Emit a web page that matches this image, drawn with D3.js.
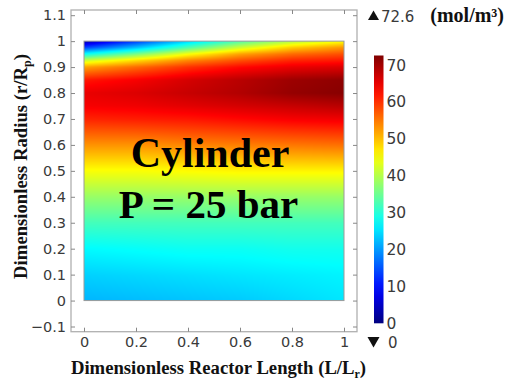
<!DOCTYPE html>
<html><head><meta charset="utf-8">
<script src="https://cdn.jsdelivr.net/npm/d3@7"></script>
<style>html,body{margin:0;padding:0;background:#fff;}svg{display:block;}</style>
</head><body>
<svg id="chart" width="506" height="381"></svg>
<script>
// ---- data ----
const lengthPts = [0, 0.2, 0.4, 0.6, 0.8, 1.0];           // L/Lr grid
const radiusPts = [0, 0.1, 0.2, 0.3, 0.4, 0.5, 0.6, 0.7, 0.75, 0.8, 0.85, 0.9, 0.925, 0.95, 0.975, 1.0]; // r/Rp grid
// concentration (mol/m3), one row per radius, one column per length
const conc = [
  [22, 22.5, 23, 23.5, 24.5, 25.5],
  [24, 24.5, 25, 25.5, 26, 26.5],
  [27, 27.5, 28, 28, 28.5, 28.5],
  [32, 32, 32, 32, 32, 32],
  [38, 38, 38, 38, 38, 38],
  [45, 45, 45.5, 46, 46, 46],
  [53, 53, 54, 54.5, 55, 55.5],
  [61, 61.5, 62, 63, 64, 64.5],
  [64, 64.5, 65.5, 66.5, 67.5, 68.5],
  [65, 66, 67.5, 69, 71, 72],
  [62, 64, 66.5, 68.5, 70.5, 71.5],
  [52, 56, 60, 63, 65, 66],
  [42, 48, 54, 58, 61, 62],
  [28, 36, 45, 52, 56, 58],
  [14, 23, 33, 42, 49, 53],
  [3, 13, 24, 33, 40, 45]
];
const xTicks = [0, 0.2, 0.4, 0.6, 0.8, 1];
const yTicks = [-0.1, 0, 0.1, 0.2, 0.3, 0.4, 0.5, 0.6, 0.7, 0.8, 0.9, 1, 1.1];
const cTicks = [0, 10, 20, 30, 40, 50, 60, 70];
const cMin = 0, cMax = 72.6;

// ---- scales ----
const svg = d3.select("#chart");
const X0 = 71, X1 = 357, Y0 = 10, Y1 = 331.7;
const x = d3.scaleLinear().domain([-0.05, 1.05]).range([X0, X1]);
const y = d3.scaleLinear().domain([-0.12, 1.12]).range([Y1, Y0]);
const jetStops = [0, 0.125, 0.375, 0.625, 0.875, 1];
const color = d3.scaleLinear()
  .domain(jetStops.map(t => cMin + t * (cMax - cMin)))
  .range(["#00007f", "#0000ff", "#00ffff", "#ffff00", "#ff0000", "#7f0000"])
  .clamp(true);

// ---- heat map (bilinear shading of the grid) ----
function field(L, r) {
  let i = Math.min(Math.max(d3.bisectRight(lengthPts, L) - 1, 0), lengthPts.length - 2);
  let j = Math.min(Math.max(d3.bisectRight(radiusPts, r) - 1, 0), radiusPts.length - 2);
  const tx = (L - lengthPts[i]) / (lengthPts[i + 1] - lengthPts[i]);
  const ty = (r - radiusPts[j]) / (radiusPts[j + 1] - radiusPts[j]);
  const a = conc[j][i] * (1 - tx) + conc[j][i + 1] * tx;
  const b = conc[j + 1][i] * (1 - tx) + conc[j + 1][i + 1] * tx;
  return a * (1 - ty) + b * ty;
}
const px0 = x(0), px1 = x(1), py0 = y(1), py1 = y(0);
const W = Math.round(px1 - px0), H = Math.round(py1 - py0);
const cv = document.createElement("canvas");
cv.width = W; cv.height = H;
const ctx = cv.getContext("2d");
const img = ctx.createImageData(W, H);
for (let py = 0; py < H; py++) {
  const r = y.invert(py0 + py + 0.5);
  for (let pxx = 0; pxx < W; pxx++) {
    const L = x.invert(px0 + pxx + 0.5);
    const c = d3.rgb(color(field(L, r)));
    const k = (py * W + pxx) * 4;
    img.data[k] = c.r; img.data[k + 1] = c.g; img.data[k + 2] = c.b; img.data[k + 3] = 255;
  }
}
ctx.putImageData(img, 0, 0);
svg.append("image").attr("x", px0).attr("y", py0).attr("width", px1 - px0).attr("height", py1 - py0)
  .attr("preserveAspectRatio", "none").attr("href", cv.toDataURL());
svg.append("rect").attr("x", px0).attr("y", py0).attr("width", px1 - px0).attr("height", py1 - py0)
  .attr("fill", "none").attr("stroke", "#9a9a9a").attr("stroke-width", 1);

// ---- frame & axes ----
const gridCol = "#b0b0b0";
svg.append("rect").attr("x", X0).attr("y", Y0).attr("width", X1 - X0).attr("height", Y1 - Y0)
  .attr("fill", "none").attr("stroke", gridCol).attr("stroke-width", 1.3);
const tickFont = "'DejaVu Sans', sans-serif";
const gx = svg.append("g").attr("transform", `translate(0,${Y1})`)
  .call(d3.axisBottom(x).tickValues(xTicks).tickSizeInner(-4).tickSizeOuter(0).tickPadding(5)
    .tickFormat(d => d3.format("~g")(d)));
const gxt = svg.append("g").attr("transform", `translate(0,${Y0})`)
  .call(d3.axisTop(x).tickValues(xTicks).tickSizeInner(-4).tickSizeOuter(0).tickFormat(""));
const gy = svg.append("g").attr("transform", `translate(${X0},0)`)
  .call(d3.axisLeft(y).tickValues(yTicks).tickSizeInner(-4).tickSizeOuter(0).tickPadding(5)
    .tickFormat(d => d3.format("~g")(d)));
const gyr = svg.append("g").attr("transform", `translate(${X1},0)`)
  .call(d3.axisRight(y).tickValues(yTicks).tickSizeInner(-4).tickSizeOuter(0).tickFormat(""));
[gx, gxt, gy, gyr].forEach(g => {
  g.select(".domain").remove();
  g.selectAll(".tick line").attr("stroke", "#888");
  g.selectAll("text").attr("font-family", tickFont).attr("font-size", "14.5px").attr("fill", "#3a3a3a");
});

// ---- color bar ----
const cb = { x: 374, w: 9.5 };
const cy = d3.scaleLinear().domain([cMin, cMax]).range([323.3, 55.5]);
const grad = svg.append("defs").append("linearGradient").attr("id", "cbg")
  .attr("x1", 0).attr("y1", 1).attr("x2", 0).attr("y2", 0);
d3.range(0, 1.0001, 0.05).forEach(t => {
  grad.append("stop").attr("offset", t).attr("stop-color", color(cMin + t * (cMax - cMin)));
});
svg.append("rect").attr("x", cb.x).attr("y", cy(cMax)).attr("width", cb.w).attr("height", cy(cMin) - cy(cMax))
  .attr("fill", "url(#cbg)");
const gc = svg.append("g").attr("transform", `translate(${cb.x + cb.w},0)`)
  .call(d3.axisRight(cy).tickValues(cTicks).tickSize(0).tickPadding(3));
gc.select(".domain").remove();
gc.selectAll("text").attr("font-family", tickFont).attr("font-size", "15.5px").attr("fill", "#3a3a3a");

// max / min markers
svg.append("path").attr("d", "M368,20 L379,20 L373.5,10.5 Z").attr("fill", "#111");
svg.append("text").attr("x", 381).attr("y", 22).attr("font-family", tickFont).attr("font-size", "15px")
  .attr("fill", "#3a3a3a").text(cMax);
svg.append("path").attr("d", "M367.5,337 L379.5,337 L373.5,347.5 Z").attr("fill", "#111");
svg.append("text").attr("x", 388).attr("y", 347.5).attr("font-family", tickFont).attr("font-size", "15px")
  .attr("fill", "#3a3a3a").text(cMin);
svg.append("text").attr("x", 504).attr("y", 22).attr("text-anchor", "end")
  .attr("font-family", "'Liberation Serif', serif").attr("font-weight", "bold").attr("font-size", "20px")
  .attr("fill", "#111").text("(mol/m³)");

// ---- titles ----
const serif = "'Liberation Serif', 'Times New Roman', serif";
const xt = svg.append("text").attr("x", 218.5).attr("y", 374).attr("text-anchor", "middle")
  .attr("font-family", serif).attr("font-weight", "bold").attr("font-size", "18.7px").attr("fill", "#111");
xt.append("tspan").text("Dimensionless Reactor Length (L/L");
xt.append("tspan").attr("font-size", "12px").attr("dy", 4).text("r");
xt.append("tspan").attr("dy", -4).text(")");

const yt = svg.append("text").attr("transform", "translate(27,166.5) rotate(-90)").attr("text-anchor", "middle")
  .attr("font-family", serif).attr("font-weight", "bold").attr("font-size", "18.7px").attr("fill", "#111");
yt.append("tspan").text("Dimensionless Radius (r/R");
yt.append("tspan").attr("font-size", "12px").attr("dy", 4).text("p");
yt.append("tspan").attr("dy", -4).text(")");

svg.append("text").attr("x", 210).attr("y", 167).attr("text-anchor", "middle")
  .attr("font-family", serif).attr("font-weight", "bold").attr("font-size", "42px").attr("fill", "#000")
  .text("Cylinder");
svg.append("text").attr("x", 208.5).attr("y", 217.5).attr("text-anchor", "middle")
  .attr("font-family", serif).attr("font-weight", "bold").attr("font-size", "41px").attr("fill", "#000")
  .text("P = 25 bar");
</script>
</body></html>
